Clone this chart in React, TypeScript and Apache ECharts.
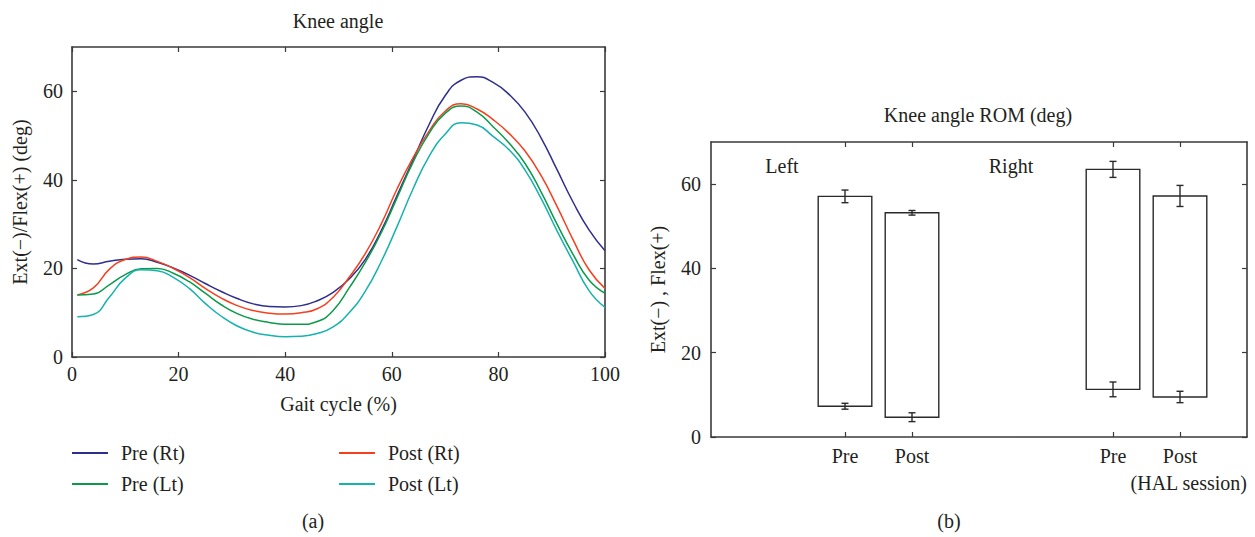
import React, { useEffect, useRef } from "react";
import * as echarts from "echarts";

// ---------- data ----------
const gaitX = [1, 4, 7, 10, 13, 16, 19, 22, 25, 28, 31, 34, 37, 40, 43, 46, 49, 52, 55, 58, 61, 64, 67, 70, 73, 76, 79, 82, 85, 88, 91, 94, 97, 100];
const preRt = [22.0, 21.0, 21.6, 22.1, 22.2, 21.4, 20.1, 18.5, 16.6, 14.8, 13.2, 12.0, 11.4, 11.3, 11.6, 12.7, 14.6, 17.6, 22.0, 28.5, 36.5, 44.5, 52.5, 59.0, 62.5, 63.3, 62.0, 59.3, 55.3, 49.5, 42.3, 35.0, 28.7, 24.0];
const postRt = [14.0, 15.6, 19.8, 22.0, 22.6, 21.6, 20.0, 18.0, 15.5, 13.3, 11.6, 10.5, 9.9, 9.7, 10.0, 10.9, 13.5, 18.0, 23.3, 30.0, 38.0, 45.0, 51.0, 55.5, 57.2, 56.0, 53.6, 50.5, 46.5, 41.0, 34.0, 26.5, 19.7, 15.5];
const preLt = [14.0, 14.2, 16.3, 18.6, 19.9, 20.0, 18.9, 17.0, 14.4, 11.8, 9.8, 8.5, 7.8, 7.4, 7.4, 8.0, 10.5, 15.6, 21.3, 28.0, 36.0, 44.0, 50.5, 55.0, 56.7, 55.3, 52.0, 48.3, 43.7, 37.3, 30.0, 23.2, 17.4, 14.4];
const postLt = [9.1, 9.6, 13.5, 17.8, 19.7, 19.5, 18.0, 15.5, 12.1, 9.2, 7.0, 5.6, 4.9, 4.6, 4.7, 5.3, 6.8, 10.0, 14.8, 21.5, 29.5, 38.0, 45.3, 50.3, 52.9, 52.4, 49.8, 46.8, 42.2, 35.8, 28.5, 21.6, 15.0, 11.2];

const seriesNames = ["Pre (Rt)", "Post (Rt)", "Pre (Lt)", "Post (Lt)"];
const seriesColors = ["#2e2e8c", "#f4401f", "#0c9a4a", "#16b2ae"];

const sessionLabels = ["Pre", "Post", "Pre", "Post"];
const sessionX = [2, 3, 6, 7];
const romHigh = [57.1, 53.2, 63.5, 57.2];
const romHighErr = [1.5, 0.55, 1.9, 2.5];
const romLow = [7.3, 4.7, 11.3, 9.5];
const romLowErr = [0.7, 1.05, 1.75, 1.35];

const yTicks = [0, 20, 40, 60];

// ---------- styles ----------
const FONT = '"Liberation Serif", "Times New Roman", serif';
const TXT = "#231f20";
const AX = "#3a3a3a";

export default function App() {
  const ref = useRef<HTMLDivElement>(null);

  useEffect(() => {
    if (!ref.current) return;
    const chart = echarts.init(ref.current, undefined, { renderer: "svg" });

    const lineData = [preRt, postRt, preLt, postLt];

    const axisLine = { show: true, onZero: false, lineStyle: { color: AX, width: 1.6 } };
    const tickIn = { show: true, inside: true, length: 5, lineStyle: { color: AX, width: 1.2 } };
    const labelStyle = { fontFamily: FONT, fontSize: 20, color: TXT };
    const yFmt = (v: number) => (yTicks.indexOf(v) >= 0 ? String(v) : "");
    const yTickCfg = { ...tickIn, customValues: yTicks };

    const legendBase = {
      orient: "horizontal",
      padding: 0,
      itemWidth: 36,
      itemHeight: 2,
      icon: "rect",
      selectedMode: false,
      textStyle: { fontFamily: FONT, fontSize: 20, color: TXT, lineHeight: 20, padding: [0, 0, 0, 8] },
    };

    const option: any = {
      animation: false,
      backgroundColor: "#ffffff",
      grid: [
        { left: 72, right: 650, top: 47, bottom: 180 },
        { left: 711, right: 8, top: 142, bottom: 100 },
      ],
      xAxis: [
        {
          gridIndex: 0, type: "value", min: 0, max: 100, interval: 20, position: "bottom",
          axisLine, axisTick: tickIn, splitLine: { show: false },
          axisLabel: { ...labelStyle, margin: 7 },
          name: "Gait cycle (%)", nameLocation: "middle", nameGap: 37,
          nameTextStyle: { ...labelStyle },
        },
        {
          gridIndex: 0, type: "value", min: 0, max: 100, interval: 20, position: "top",
          axisLine, axisTick: tickIn, splitLine: { show: false }, axisLabel: { show: false },
        },
        {
          gridIndex: 1, type: "value", min: 0, max: 8, interval: 1, position: "bottom",
          axisLine, splitLine: { show: false },
          axisTick: { ...tickIn, customValues: sessionX },
          axisLabel: {
            ...labelStyle, margin: 9, customValues: sessionX,
            formatter: (v: number) => {
              const i = sessionX.indexOf(v);
              return i >= 0 ? sessionLabels[i] : "";
            },
          },
        },
        {
          gridIndex: 1, type: "value", min: 0, max: 8, interval: 1, position: "top",
          axisLine, splitLine: { show: false },
          axisTick: { ...tickIn, customValues: sessionX },
          axisLabel: { show: false },
        },
      ],
      yAxis: [
        {
          gridIndex: 0, type: "value", min: 0, max: 70, interval: 20, position: "left",
          axisLine, axisTick: yTickCfg, splitLine: { show: false },
          axisLabel: { ...labelStyle, margin: 9, formatter: yFmt },
          name: "Ext(\u2212)/Flex(+) (deg)", nameLocation: "middle", nameGap: 42,
          nameTextStyle: { ...labelStyle },
        },
        {
          gridIndex: 0, type: "value", min: 0, max: 70, interval: 20, position: "right",
          axisLine, axisTick: yTickCfg, splitLine: { show: false }, axisLabel: { show: false },
        },
        {
          gridIndex: 1, type: "value", min: 0, max: 70, interval: 20, position: "left",
          axisLine, axisTick: yTickCfg, splitLine: { show: false },
          axisLabel: { ...labelStyle, margin: 10, formatter: yFmt },
          name: "Ext(\u2212) , Flex(+)", nameLocation: "middle", nameGap: 43,
          nameTextStyle: { ...labelStyle },
        },
        {
          gridIndex: 1, type: "value", min: 0, max: 70, interval: 20, position: "right",
          axisLine, axisTick: yTickCfg, splitLine: { show: false }, axisLabel: { show: false },
        },
      ],
      legend: [
        { ...legendBase, data: [seriesNames[0]], left: 72, top: 443 },
        { ...legendBase, data: [seriesNames[1]], left: 339, top: 443 },
        { ...legendBase, data: [seriesNames[2]], left: 72, top: 474 },
        { ...legendBase, data: [seriesNames[3]], left: 339, top: 474 },
      ],
      series: [
        ...lineData.map((vals, k) => ({
          type: "line",
          name: seriesNames[k],
          xAxisIndex: 0,
          yAxisIndex: 0,
          data: gaitX.map((x, i) => [x, vals[i]]),
          smooth: 0.5,
          showSymbol: false,
          symbol: "none",
          color: seriesColors[k],
          lineStyle: { color: seriesColors[k], width: 1.5 },
        })),
        {
          type: "custom",
          name: "ROM",
          xAxisIndex: 2,
          yAxisIndex: 2,
          data: sessionX.map((x, i) => [x, romLow[i], romHigh[i], romLowErr[i], romHighErr[i]]),
          renderItem: (params: any, api: any) => {
            const x = api.value(0);
            const lo = api.value(1);
            const hi = api.value(2);
            const loE = api.value(3);
            const hiE = api.value(4);
            const pLL = api.coord([x - 0.4, lo]);
            const pHR = api.coord([x + 0.4, hi]);
            const stroke = { stroke: "#2a2a2a", lineWidth: 1.4, fill: null };
            const children: any[] = [
              {
                type: "rect",
                shape: { x: pLL[0], y: pHR[1], width: pHR[0] - pLL[0], height: pLL[1] - pHR[1] },
                style: { fill: "#ffffff", stroke: "#2a2a2a", lineWidth: 1.4 },
              },
            ];
            const bar = (v: number, e: number) => {
              const t = api.coord([x, v + e]);
              const b = api.coord([x, v - e]);
              const cw = 3.5;
              children.push(
                { type: "line", shape: { x1: t[0], y1: t[1], x2: b[0], y2: b[1] }, style: stroke },
                { type: "line", shape: { x1: t[0] - cw, y1: t[1], x2: t[0] + cw, y2: t[1] }, style: stroke },
                { type: "line", shape: { x1: b[0] - cw, y1: b[1], x2: b[0] + cw, y2: b[1] }, style: stroke }
              );
            };
            bar(hi, hiE);
            bar(lo, loE);
            return { type: "group", children };
          },
        },
      ],
      graphic: [
        { type: "text", x: 338, y: 21, style: { text: "Knee angle", font: `20px ${FONT}`, fill: TXT, align: "center", verticalAlign: "middle" } },
        { type: "text", x: 978, y: 115, style: { text: "Knee angle ROM (deg)", font: `20px ${FONT}`, fill: TXT, align: "center", verticalAlign: "middle" } },
        { type: "text", x: 782, y: 166, style: { text: "Left", font: `20px ${FONT}`, fill: TXT, align: "center", verticalAlign: "middle" } },
        { type: "text", x: 1011, y: 166, style: { text: "Right", font: `20px ${FONT}`, fill: TXT, align: "center", verticalAlign: "middle" } },
        { type: "text", x: 1247, y: 483, style: { text: "(HAL session)", font: `20px ${FONT}`, fill: TXT, align: "right", verticalAlign: "middle" } },
        { type: "text", x: 313, y: 521, style: { text: "(a)", font: `20px ${FONT}`, fill: TXT, align: "center", verticalAlign: "middle" } },
        { type: "text", x: 949, y: 521, style: { text: "(b)", font: `20px ${FONT}`, fill: TXT, align: "center", verticalAlign: "middle" } },
      ],
    };

    chart.setOption(option);
    return () => chart.dispose();
  }, []);

  return (
    <div
      ref={ref}
      style={{ position: "fixed", left: 0, top: 0, width: 1255, height: 537, background: "#fff" }}
    />
  );
}
